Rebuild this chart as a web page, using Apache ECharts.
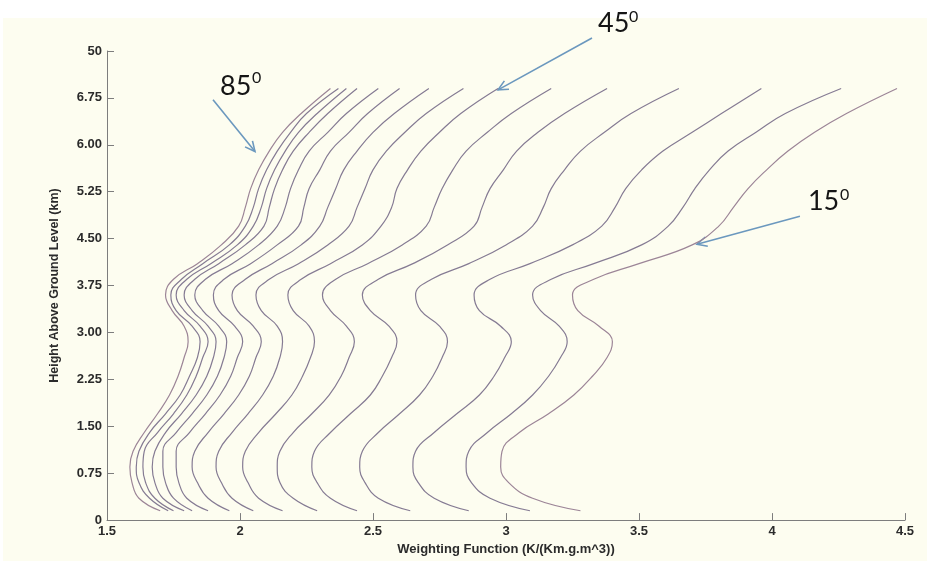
<!DOCTYPE html>
<html>
<head>
<meta charset="utf-8">
<script src="https://cdn.jsdelivr.net/npm/echarts@6/dist/echarts.min.js"></script>
<style>
  html, body { margin: 0; padding: 0; background: #ffffff; }
  #paper { position: absolute; left: 3px; top: 18px; width: 924px; height: 543px; background: #fdfdf0; }
  #chart { position: absolute; left: 0; top: 0; width: 927px; height: 561px; }
</style>
</head>
<body>
<div id="paper"></div>
<div id="chart"></div>
<script>
// Heights (km) at which each weighting-function profile is sampled
const heightKm = [0.15, 0.35, 0.6, 0.85, 1.1, 1.4, 1.7, 2.0, 2.3, 2.6, 2.85, 3.1, 3.35,
                  3.6, 3.85, 4.1, 4.4, 4.7, 5.0, 5.3, 5.6, 5.9, 6.2, 6.5, 6.9];

// Weighting function K/(Km.g.m^3) per elevation angle, one value per height above
const wf85 = [1.70, 1.62, 1.594, 1.586, 1.598, 1.64, 1.69, 1.735, 1.767, 1.79, 1.805, 1.79, 1.745, 1.72, 1.75, 1.84, 1.93, 1.995, 2.02, 2.04, 2.07, 2.11, 2.16, 2.23, 2.34];
const wf80 = [1.73, 1.66, 1.62, 1.61, 1.62, 1.66, 1.72, 1.775, 1.81, 1.84, 1.85, 1.82, 1.76, 1.74, 1.78, 1.86, 1.96, 2.02, 2.05, 2.07, 2.10, 2.14, 2.19, 2.25, 2.37];
const wf75 = [1.75, 1.68, 1.645, 1.635, 1.64, 1.69, 1.75, 1.80, 1.835, 1.86, 1.88, 1.85, 1.79, 1.76, 1.80, 1.89, 1.99, 2.05, 2.08, 2.10, 2.13, 2.17, 2.22, 2.29, 2.40];
const wf70 = [1.79, 1.71, 1.68, 1.67, 1.68, 1.72, 1.78, 1.835, 1.875, 1.90, 1.91, 1.88, 1.82, 1.79, 1.83, 1.92, 2.02, 2.09, 2.11, 2.13, 2.16, 2.20, 2.26, 2.33, 2.44];
const wf65 = [1.82, 1.75, 1.72, 1.71, 1.71, 1.76, 1.82, 1.875, 1.915, 1.94, 1.95, 1.92, 1.86, 1.83, 1.87, 1.97, 2.07, 2.14, 2.17, 2.19, 2.22, 2.26, 2.33, 2.40, 2.52];
const wf60 = [1.88, 1.80, 1.77, 1.76, 1.76, 1.81, 1.87, 1.925, 1.965, 1.99, 2.01, 1.98, 1.92, 1.90, 1.94, 2.04, 2.14, 2.22, 2.24, 2.26, 2.30, 2.34, 2.41, 2.48, 2.60];
const wf55 = [1.96, 1.88, 1.84, 1.82, 1.83, 1.88, 1.94, 1.995, 2.035, 2.06, 2.08, 2.05, 1.99, 1.97, 2.02, 2.12, 2.23, 2.30, 2.33, 2.36, 2.39, 2.44, 2.50, 2.58, 2.71];
const wf50 = [2.05, 1.97, 1.93, 1.91, 1.92, 1.97, 2.03, 2.085, 2.125, 2.15, 2.16, 2.14, 2.08, 2.06, 2.11, 2.22, 2.33, 2.41, 2.44, 2.47, 2.50, 2.55, 2.62, 2.70, 2.84];
const wf45 = [2.16, 2.07, 2.03, 2.01, 2.02, 2.07, 2.135, 2.195, 2.235, 2.265, 2.28, 2.26, 2.20, 2.18, 2.23, 2.34, 2.46, 2.53, 2.57, 2.59, 2.63, 2.68, 2.75, 2.83, 2.97];
const wf40 = [2.29, 2.20, 2.15, 2.14, 2.15, 2.20, 2.27, 2.335, 2.38, 2.41, 2.43, 2.40, 2.34, 2.31, 2.36, 2.48, 2.61, 2.70, 2.73, 2.76, 2.80, 2.85, 2.93, 3.02, 3.17];
const wf35 = [2.44, 2.34, 2.29, 2.27, 2.28, 2.34, 2.415, 2.49, 2.535, 2.57, 2.59, 2.56, 2.49, 2.46, 2.52, 2.65, 2.78, 2.88, 2.91, 2.94, 2.99, 3.04, 3.12, 3.22, 3.38];
const wf30 = [2.64, 2.52, 2.47, 2.45, 2.46, 2.52, 2.60, 2.675, 2.725, 2.76, 2.78, 2.75, 2.68, 2.66, 2.72, 2.86, 3.00, 3.10, 3.14, 3.17, 3.22, 3.28, 3.37, 3.47, 3.65];
const wf25 = [2.86, 2.73, 2.67, 2.65, 2.66, 2.73, 2.815, 2.90, 2.955, 2.995, 3.02, 2.98, 2.90, 2.88, 2.94, 3.09, 3.25, 3.36, 3.41, 3.45, 3.51, 3.59, 3.70, 3.81, 3.96];
const wf20 = [3.09, 2.94, 2.87, 2.85, 2.86, 2.93, 3.02, 3.10, 3.16, 3.205, 3.23, 3.20, 3.13, 3.10, 3.17, 3.33, 3.51, 3.61, 3.665, 3.71, 3.765, 3.835, 3.94, 4.05, 4.26];
const wf15 = [3.28, 3.10, 3.01, 2.98, 2.985, 3.05, 3.16, 3.255, 3.325, 3.38, 3.40, 3.35, 3.27, 3.25, 3.33, 3.50, 3.70, 3.80, 3.855, 3.91, 3.98, 4.06, 4.16, 4.28, 4.47];

const elevationDeg = [85, 80, 75, 70, 65, 60, 55, 50, 45, 40, 35, 30, 25, 20, 15];
const profiles = [wf85, wf80, wf75, wf70, wf65, wf60, wf55, wf50, wf45, wf40, wf35, wf30, wf25, wf20, wf15];

// Axis ticks
const xTicks = [1.5, 2, 2.5, 3, 3.5, 4, 4.5];
const yTickLabels = ['0', '0.75', '1.50', '2.25', '3.00', '3.75', '4.50', '5.25', '6.00', '6.75', '50'];
const yTickStep = 0.75;

// Angle call-outs: arrow tail, arrow tip, label anchor, superscript anchor (data units)
const callouts = [
  { label: '85', tail: [1.8985, 6.72], tip: [2.0564, 5.892], text: [1.925, 6.943], sup: [2.045, 7.07] },
  { label: '45', tail: [3.3233, 7.707], tip: [2.970, 6.879], text: [3.346, 7.946], sup: [3.462, 8.041] },
  { label: '15', tail: [4.105, 4.857], tip: [3.718, 4.411], text: [4.135, 5.096], sup: [4.256, 5.207] }
];

const chart = echarts.init(document.getElementById('chart'), null, { renderer: 'canvas' });

const axisFont = { fontFamily: 'Liberation Sans, Arial, sans-serif', fontWeight: 'bold', color: '#2b2b2b' };

chart.setOption({
  animation: false,
  grid: { left: 107, right: 22, top: 51, bottom: 39, containLabel: false },
  xAxis: {
    type: 'value',
    min: xTicks[0],
    max: xTicks[xTicks.length - 1],
    interval: xTicks[1] - xTicks[0],
    name: 'Weighting Function (K/(Km.g.m^3))',
    nameLocation: 'middle',
    nameGap: 22,
    nameTextStyle: Object.assign({ fontSize: 13 }, axisFont),
    axisLine: { show: true, onZero: false, lineStyle: { color: '#7d7d7d', width: 1 } },
    axisTick: { show: true, inside: true, length: 7, lineStyle: { color: '#7d7d7d' } },
    axisLabel: Object.assign({ fontSize: 13, margin: 5, formatter: v => String(v) }, axisFont),
    splitLine: { show: false }
  },
  yAxis: {
    type: 'value',
    min: 0,
    max: yTickStep * (yTickLabels.length - 1),
    interval: yTickStep,
    name: 'Height Above Ground Level (km)',
    nameLocation: 'middle',
    nameGap: 46,
    nameTextStyle: Object.assign({ fontSize: 12.5 }, axisFont),
    axisLine: { show: true, onZero: false, lineStyle: { color: '#7d7d7d', width: 1 } },
    axisTick: { show: true, inside: true, length: 7, lineStyle: { color: '#7d7d7d' } },
    axisLabel: Object.assign({
      fontSize: 13, margin: 5,
      formatter: v => yTickLabels[Math.round(v / yTickStep)]
    }, axisFont),
    splitLine: { show: false }
  },
  series: profiles.map((p, i) => ({
    type: 'line',
    name: elevationDeg[i] + '\u00b0',
    data: heightKm.map((h, j) => [p[j], h]),
    symbol: 'none',
    smooth: 0.45,
    silent: true,
    lineStyle: { width: 1.2, color: (i === 0 || i === profiles.length - 1) ? '#9c8597' : '#857b93' }
  }))
});

// Call-out arrows and angle labels
const toPx = pt => chart.convertToPixel({ gridIndex: 0 }, pt);
const arrowColor = '#6b98be';
const graphics = [];
callouts.forEach(c => {
  const t0 = toPx(c.tail), t1 = toPx(c.tip);
  const ang = Math.atan2(t1[1] - t0[1], t1[0] - t0[0]);
  const len = 11, spread = 0.45;
  const h1 = [t1[0] - len * Math.cos(ang - spread), t1[1] - len * Math.sin(ang - spread)];
  const h2 = [t1[0] - len * Math.cos(ang + spread), t1[1] - len * Math.sin(ang + spread)];
  graphics.push({
    type: 'line', silent: true,
    shape: { x1: t0[0], y1: t0[1], x2: t1[0], y2: t1[1] },
    style: { stroke: arrowColor, lineWidth: 1.6 }
  });
  graphics.push({
    type: 'polyline', silent: true,
    shape: { points: [h1, t1, h2] },
    style: { stroke: arrowColor, lineWidth: 1.6, fill: null }
  });
  const tp = toPx(c.text), sp = toPx(c.sup);
  graphics.push({
    type: 'text', silent: true, x: tp[0], y: tp[1],
    style: { text: c.label, fontSize: 27, fontFamily: 'Lato, Open Sans, sans-serif', fill: '#151515',
             align: 'left', verticalAlign: 'middle', textAlign: 'left', textVerticalAlign: 'middle' }
  });
  graphics.push({
    type: 'text', silent: true, x: sp[0], y: sp[1],
    style: { text: '0', fontSize: 16, fontFamily: 'Lato, Open Sans, sans-serif', fill: '#151515',
             align: 'left', verticalAlign: 'middle', textAlign: 'left', textVerticalAlign: 'middle' }
  });
});
chart.setOption({ graphic: graphics });
</script>
</body>
</html>
